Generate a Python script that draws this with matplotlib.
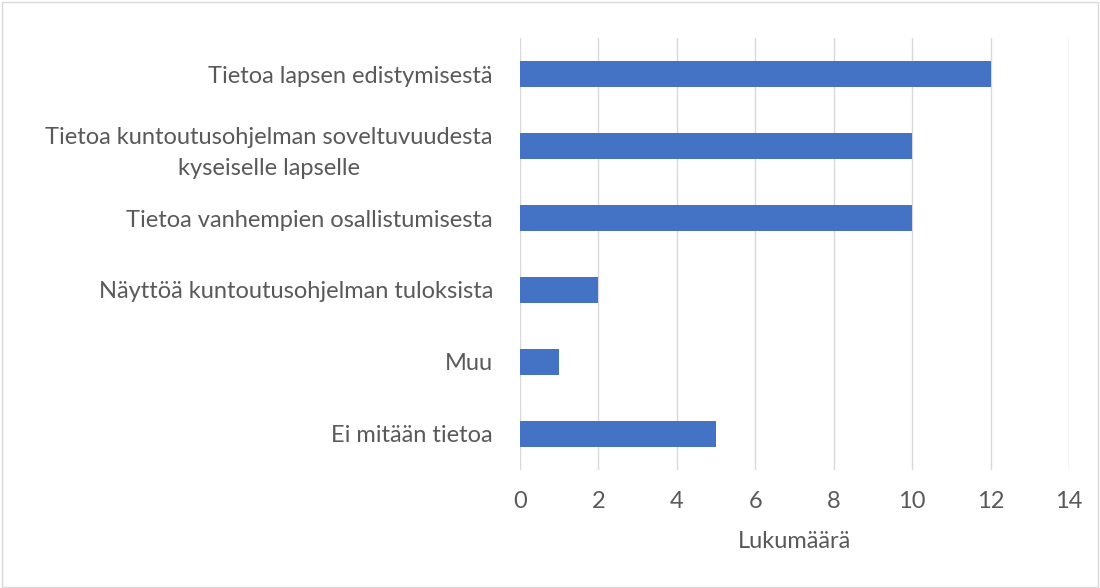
import matplotlib
matplotlib.use("Agg")
import matplotlib.pyplot as plt
from matplotlib.patches import Rectangle

categories = ["Tietoa lapsen edistymisestä",
              "Tietoa kuntoutusohjelman soveltuvuudesta\nkyseiselle lapselle",
              "Tietoa vanhempien osallistumisesta",
              "Näyttöä kuntoutusohjelman tuloksista",
              "Muu",
              "Ei mitään tietoa"]
values = [12, 10, 10, 2, 1, 5]
xticks = [0, 2, 4, 6, 8, 10, 12, 14]
xlabel = "Lukumäärä"

plt.rcParams['font.family'] = ['Lato', 'DejaVu Sans']
fig = plt.figure(figsize=(11, 5.88), dpi=100)
ax = fig.add_axes([0.4727, 0.201, 0.4991, 0.734])
ypos = list(range(len(categories)))[::-1]
ax.barh(ypos, values, height=0.36, color="#4472C4", zorder=3)
ax.set_xlim(0, 14)
ax.set_ylim(-0.5, len(categories) - 0.5)
ax.set_xticks(xticks)
ax.set_yticks(ypos)
ax.set_yticklabels(categories, ha='right', multialignment='center', linespacing=1.6)
ax.grid(axis='x', color="#D9D9D9", linewidth=1, zorder=0)
for s in ax.spines.values():
    s.set_visible(False)
ax.tick_params(axis='y', length=0, labelsize=17, colors="#595959", pad=19.5)
ax.tick_params(axis='x', length=0, labelsize=17, colors="#595959", pad=15)
ax.set_xlabel(xlabel, fontsize=17, color="#595959", labelpad=14)
fig.patches.append(Rectangle((0.002, 0.002), 0.996, 0.995, transform=fig.transFigure,
                             fill=False, edgecolor="#D9D9D9", linewidth=1))
fig.savefig("out.png", dpi=100)
